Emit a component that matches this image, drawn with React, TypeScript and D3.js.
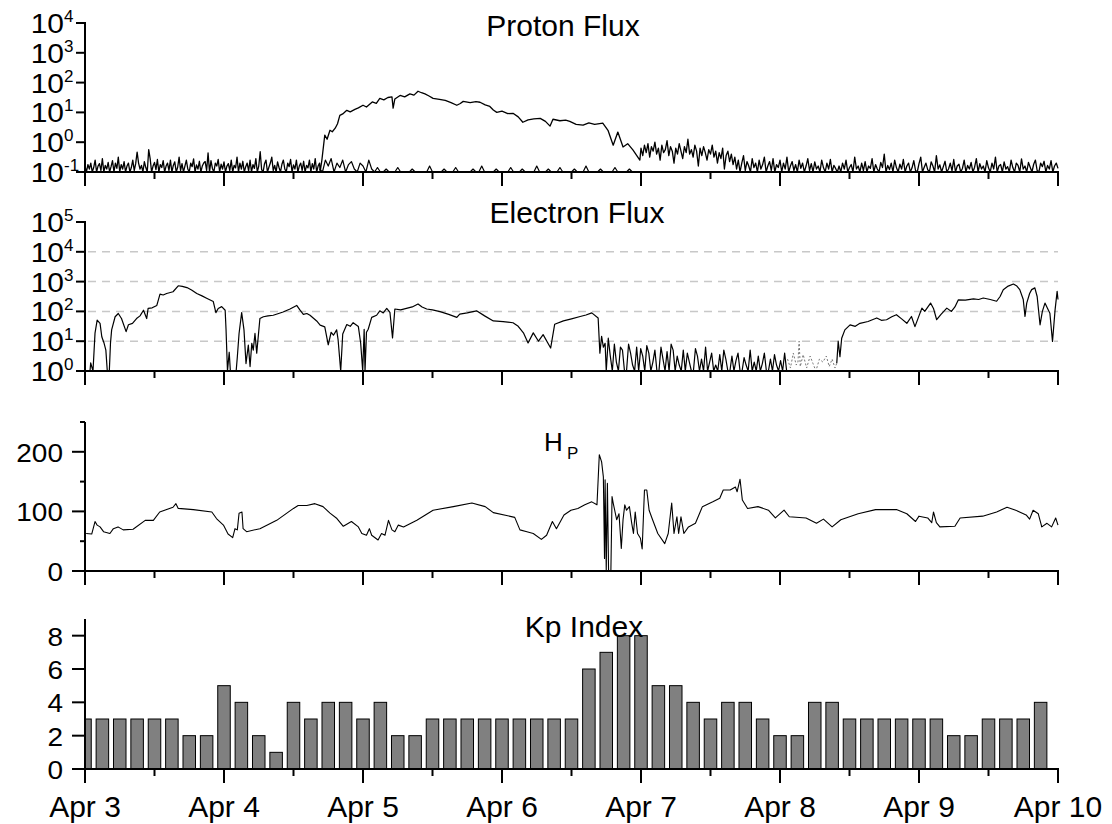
import React from "react";
import * as d3 from "d3";

// ---------------- DATA ----------------
const START = Date.UTC(2000, 3, 3);
const HOUR = 3600 * 1000;
const SPAN_HOURS = 168;

const dayLabels = ["Apr 3", "Apr 4", "Apr 5", "Apr 6", "Apr 7", "Apr 8", "Apr 9", "Apr 10"];

// Kp index, 3-hour values starting Apr 3 00 UT
const kpValues = [
  3, 3, 3, 3, 3, 3, 2, 2,
  5, 4, 2, 1, 4, 3, 4, 4,
  3, 4, 2, 2, 3, 3, 3, 3,
  3, 3, 3, 3, 3, 6, 7, 8,
  8, 5, 5, 4, 3, 4, 4, 3,
  2, 2, 4, 4, 3, 3, 3, 3,
  3, 3, 2, 2, 3, 3, 3, 4,
];

// Proton flux, log10 values. Quiet background from Apr 3 00 UT, every 0.25 h
const protonQuietLog = [
  -.8, -1, -.75, -.9, -.7, -1, -.85, -.6, -1, -.8, -.72, -.95, -.55, -1, -.78, -.9, -.68, -1, -.82, -.62,
  -1, -.7, -.88, -.5, -1, -.75, -.9, -.65, -1, -.8, -.7, -1, -.85, -.6, -.95, -.72, -.33, -.7, -.9, -.78,
  -1, -.65, -.85, -1, -.25, -.55, -1, -.8, -.68, -.92, -.58, -1, -.75, -.85, -.62, -1, -.8, -.7, -.95, -.6,
  -1, -.78, -.66, -1, -.84, -.5, -.95, -.72, -1, -.8, -.6, -.9, -1, -.7, -.82, -.56, -1, -.76, -.9, -.64,
  -1, -.8, -.7, -.65, -.95, -.36, -1, -.62, -.88, -1, -.7, -.8, -.58, -1, -.74, -.9, -.66, -1, -.8, -.72,
  -.95, -.6, -1, -.78, -.86, -.5, -1, -.7, -.9, -.64, -1, -.82, -.7, -.96, -.6, -1, -.75, -.88, -.55, -1,
  -.8, -.32, -.92, -1, -.72, -.6, -1, -.84, -.7, -.5, -.95, -.78, -1, -.66, -.85, -1, -.74, -.6, -.9, -1,
  -.7, -.82, -.58, -1, -.76, -.9, -.6, -1, -.8, -.7, -.95, -.64, -1, -.78, -.86, -.6, -1, -.72, -.9, -.55,
  -1, -.8, -.7,
];

// Proton event [hour, log10 flux]
const protonEventLog: [number, number][] = [
  [40.6, -1], [40.9, -.6], [41.4, .24], [41.8, .1], [42.3, .4], [42.7, .35], [43.2, .47], [43.6, .62],
  [44, .9], [44.5, .95], [45.2, 1.07], [45.8, 1.02], [46.6, 1.1], [47.2, 1.15], [48, 1.24], [48.6, 1.18],
  [49.6, 1.35], [50.3, 1.3], [50.9, 1.47], [51.6, 1.42], [52.3, 1.5], [53, 1.52], [53.2, 1.14], [53.5, 1.45],
  [54.4, 1.57], [55.2, 1.52], [56.1, 1.62], [56.8, 1.58], [57.5, 1.71], [58.1, 1.66], [58.7, 1.62], [59.4, 1.55],
  [60.1, 1.47], [61.2, 1.44], [62.2, 1.4], [63.2, 1.33], [64.2, 1.24], [64.8, 1.3], [65.3, 1.37], [66.5, 1.33],
  [67.5, 1.36], [68.2, 1.34], [69.1, 1.25], [69.9, 1.2], [70.5, 1.08], [71.1, 1.0], [72, 1.04], [73, .96],
  [73.9, .97], [74.8, .85], [75.6, .67], [76.5, .75], [77.5, .78], [78.6, .8], [79.5, .7], [80.3, .54],
  [80.8, .77], [82, .72], [83, .74], [83.7, .7], [84.8, .6], [86, .57], [87, .65], [88, .6],
  [89.4, .64], [90.3, .4], [91.2, -.1], [92, .34], [92.9, -.16], [93.7, -.05], [94.6, -.26], [95.8, -.6],
];

// Proton decay and background from Apr 7 00 UT, every 0.3 h
const protonLateLog = [
  -.2, -.45, -.1, -.35, -.05, -.5, -.15, -.3, 0, -.4, -.2, -.6, -.1, -.35, -.25, .05, -.45, -.15, -.3, -.7,
  -.2, -.4, -.05, -.3, -.55, -.15, -.35, .1, -.4, -.25, -.5, -.1, -.3, -.8, -.2, -.45, -.15, -.35, -.6, -.25,
  -.4, -.1, -.5, -.3, -.7, -.35, -.55, -.2, -.9, -.45, -.3, -.65, -.4, -.75,
  -.5, -.9, -.6, -1, -.7, -.45, -.95, -.65, -.8, -1, -.55, -.85, -.7, -1, -.6, -.9, -.75, -.5, -1, -.8,
  -.65, -.95, -.55, -1, -.75, -.85, -.6, -1, -.7, -.9, -.5, -1, -.8, -.65, -.95, -.75, -1, -.6, -.88, -.7,
  -1, -.8, -.55, -.95, -.72, -1, -.66, -.9, -.8, -1, -.6, -.85, -1, -.7, -.9, -.58, -1, -.78, -.88, -1,
  -.8, -1, -.7, -.9, -.6, -1, -.85, -.75, -1, -.5, -.9, -.8, -1, -.7, -.95, -.65, -1, -.8, -.88, -.55,
  -1, -.75, -.9, -1, -.68, -.85, -.4, -1, -.78, -.92, -.7, -1, -.6, -.85, -1, -.74, -.9, -.58, -1, -.8,
  -.7, -1, -.86, -.62, -.95, -1, -.72, -.5, -1, -.84, -.7, -.92, -1, -.66, -.8, -1, -.45, -.9, -.76, -1,
  -.82, -.64, -1, -.9, -.7, -.96, -.58, -1, -.8, -.74, -1, -.88, -.6, -1, -.78, -.9, -.68, -1, -.84, -.55,
  -1, -.72, -.9, -.8, -1, -.62, -.86, -1, -.7, -.9, -.5, -1, -.8, -.75, -1, -.66, -.9, -.82, -1, -.6,
  -.85, -1, -.7, -.78, -1, -.56, -.9, -.8, -1, -.68, -.84, -1, -.74, -.6, -.95, -1, -.7, -.82, -.64, -1,
  -.78, -.9, -.62, -1, -.8, -.7, -.88,
];

// Second (high-energy) proton channel, from 40.5 h, every 0.5 h
const protonHighLog = [
  -.9, -1, -.6, -.8, -.55, -1, -.7, -.85, -.6, -1, -.75, -.65, -.9, -1, -.7, -.8, -1, -.6, -.9, -1, -.85,
  -1, -1, -.9, -1, -1, -1, -.85, -1, -1, -1, -1, -.9, -1, -1, -1, -1, -1, -.8, -1, -1,
  -1, -1, -.9, -1, -1, -1, -.85, -1, -1, -1, -1, -1, -.9, -1, -1, -.8, -1, -1, -1, -1,
  -.9, -1, -1, -1, -1, -.85, -1, -1, -1, -.9, -1, -1, -1, -1, -.8, -1, -1, -1, -.9, -1,
  -1, -1, -.85, -1, -1, -1, -1, -.9, -1, -1, -1, -.8, -1, -1, -1, -1, -.9, -1, -1, -1,
  -1, -.85, -1, -1, -1, -1, -.9, -1, -1, -1,
];

// Electron flux [hour, log10 flux]
const electronLog: [number, number][] = [
  [0, 0], [0.86, 0], [0.98, .27], [1.38, 0], [1.73, 1.27], [2.1, 1.71], [2.6, 1.6], [2.9, 1.15], [3.3, .93],
  [3.6, .7], [3.85, 0], [4.2, 0], [4.4, .93], [4.6, 1.38], [5.2, 1.82], [5.75, 1.93], [6.3, 1.76], [7.1, 1.32],
  [7.5, 1.55], [8.2, 1.6], [8.9, 1.76], [9.5, 1.85], [10.1, 2.04], [10.65, 1.76], [10.9, 2.1], [11.6, 2.12],
  [12.4, 2.2], [12.95, 2.58], [13.5, 2.55], [14.1, 2.6], [15.2, 2.66], [16.1, 2.86], [16.8, 2.84], [17.6, 2.8],
  [18.4, 2.72], [19.3, 2.6], [20.2, 2.52], [21, 2.44], [22.15, 2.33], [22.6, 1.96], [23, 2.1], [23.6, 2.16],
  [24.2, 2.04], [24.35, 1.4], [24.6, 0], [24.9, .63], [25.1, 0], [26.1, 0], [26.3, .47], [26.6, 1.26],
  [27.05, 1.96], [27.45, 1.38], [27.8, .25], [28.2, .87], [28.5, .15], [28.8, .93], [29.05, .7], [29.35, 1.26],
  [29.65, .6], [30.2, 1.76], [30.8, 1.82], [31.6, 1.85], [32.5, 1.87], [33.3, 1.92], [34.2, 1.98], [35.4, 2.08],
  [36.55, 2.2], [37.1, 2.05], [37.7, 1.9], [38.3, 1.93], [38.85, 1.87], [40, 1.68], [40.6, 1.54], [41.4, 1.48],
  [42, .88], [42.5, 1.3], [42.9, 1.2], [43.45, 1.38], [43.7, 1.05], [44.15, 0], [44.5, 1.24], [45.2, 1.56],
  [45.8, 1.5], [46.3, 1.62], [47.2, 1.49], [47.6, .93], [47.95, 0], [48.2, 1.4], [48.35, 0], [48.6, 1.3],
  [48.9, 1.4], [49.5, 1.8], [50.35, 1.87], [50.9, 2.02], [51.5, 1.95], [52.1, 2.1], [52.65, 1.97], [53.1, 1.11],
  [53.5, 2.08], [54.5, 2.05], [55.5, 2.1], [56.5, 2.15], [57.5, 2.25], [58.2, 2.15], [59, 2.08], [60, 2.05],
  [61.3, 1.99], [62.8, 1.9], [64.2, 1.8], [64.7, 1.91], [66, 1.95], [67.6, 2.02], [69, 1.85], [70.5, 1.68],
  [72.2, 1.66], [73.9, 1.62], [74.8, 1.5], [75.7, 1.28], [76.5, .94], [77.4, 1.28], [78.3, 1.0], [79.1, 1.22],
  [80.4, .77], [81.1, 1.57], [82.6, 1.68], [84, 1.75], [85.5, 1.83], [86.5, 1.88], [87.5, 1.95], [88.6, 1.78],
  [88.9, .6], [89.2, 1.16], [89.5, .8], [89.8, .93],
];

// Electron dropout noise from 90 h, every 0.35 h (log10)
const electronNoiseLog = [
  0, 1.1, .5, 0, .9, .3, 0, .8, .7, 0, 0, .9, .6, .2, 0, .8, 0, .75, .5, 0,
  .85, .6, 0, .3, .7, 0, 0, .8, .4, 0, .65, 0, .9, .7, 0, .5, .2, 0, .7, 0,
  .6, .3, 0, 0, .75, .5, 0, .4, 0, .8, 0, .3, .6, 0, .2, 0, .55, 0, .7, .4,
  0, 0, .5, 0, .35, .6, 0, 0, .45, .2, 0, .7, 0, .3, 0, .5, 0, .25, .6, 0,
  0, .4, 0, .55, .2, 0, .35, 0, .6, 0,
];

// Sparse (dotted) electron samples [hour, log10]
const electronGapLog: [number, number][] = [
  [121.3, .4], [121.8, .1], [122.3, .6], [122.8, .2], [123.1, .3], [123.3, 1.0], [123.5, .15], [124, .55],
  [124.6, .1], [125.2, .5], [125.7, .25], [126.2, 0], [126.8, .4], [127.4, .3], [128, .5], [128.5, .15],
  [129, .4], [129.5, .1], [129.8, .26],
];

// Electron recovery [hour, log10]
const electronRecoveryLog: [number, number][] = [
  [129.8, .26], [130.05, 1.0], [130.35, .48], [130.65, 1.1], [131.2, 1.38], [132.1, 1.55], [133, 1.5],
  [133.8, 1.6], [135.2, 1.66], [136.7, 1.78], [137.5, 1.7], [138.4, 1.72], [139.3, 1.82], [140.1, 1.89],
  [141, 1.75], [141.9, 1.6], [142.7, 1.83], [143.3, 1.49], [144.5, 2.11], [145, 2.0], [145.6, 2.17],
  [146, 2.28], [146.5, 2.1], [147.05, 1.72], [147.8, 1.9], [148.8, 2.11], [149.6, 2.0], [150.2, 2.15],
  [150.8, 2.39], [152, 2.38], [153.4, 2.42], [154.3, 2.4], [155.1, 2.45], [156.3, 2.4], [157.4, 2.34],
  [158, 2.5], [158.55, 2.73], [159.4, 2.85], [160.3, 2.92], [160.9, 2.85], [161.4, 2.73], [162, 2.4],
  [162.3, 1.83], [162.6, 2.28], [163.1, 2.6], [163.45, 2.73], [164, 2.79], [164.4, 2.5], [164.9, 1.55],
  [165.3, 2.0], [165.75, 2.28], [166.2, 2.1], [166.6, 1.94], [167.05, .99], [167.5, 2.06], [167.85, 2.67],
  [168, 2.4],
];

// Hp [hour, nT]
const hpValues: [number, number][] = [
  [0.2, 63], [1.16, 62], [1.73, 83], [2.1, 77], [2.6, 74], [3.2, 66], [4.3, 63], [4.9, 71], [5.7, 74], [6.6, 69],
  [8.3, 70], [10.4, 85], [11.8, 85], [12.9, 99], [15.2, 107], [15.7, 113], [16.1, 105], [18.7, 103], [21.9, 99],
  [22.7, 88], [23.9, 77], [24.7, 62], [25.5, 56], [25.9, 71], [26.3, 69], [26.6, 97], [27.1, 99], [27.3, 71],
  [27.9, 66], [30.2, 71], [33.1, 85], [36, 105], [36.8, 110], [38.3, 110], [39.7, 113], [41.1, 108], [42.3, 97],
  [43.5, 88], [44.6, 75], [46, 83], [47.2, 74], [47.8, 63], [48.6, 60], [49.1, 71], [49.5, 60], [50.6, 52],
  [51.2, 63], [51.8, 60], [52.4, 85], [53, 69], [53.5, 66], [54.1, 77], [55, 74], [57.3, 85], [60.1, 102],
  [63.6, 108], [66.8, 114], [69.1, 108], [70.5, 98], [74.2, 90], [75.1, 69], [76.3, 66], [77.4, 63], [78.8, 53],
  [79.7, 60], [80.7, 83], [81.4, 71], [82.7, 94], [83.9, 102], [85.1, 105], [86.3, 111], [87.5, 116], [88.4, 111],
  [88.8, 195], [89.2, 183], [89.5, 158], [89.7, 21], [89.8, 153], [90, 0], [90.2, 147], [90.4, 0], [90.8, 0],
  [91, 125], [91.2, 114], [91.8, 86], [92.2, 96], [92.6, 38], [92.9, 86], [93.2, 111], [93.5, 102], [94, 108],
  [94.4, 80], [94.7, 63], [95, 99], [95.4, 63], [95.9, 55], [96.2, 37], [96.6, 136], [97, 136], [97.4, 102],
  [98, 86], [98.9, 63], [100.1, 46], [100.7, 63], [101.3, 114], [101.7, 63], [102.2, 91], [102.5, 63],
  [102.9, 91], [103.4, 63], [104.2, 74], [105.4, 80], [106.6, 108], [108.4, 116], [109.6, 122], [110.2, 136],
  [111.4, 136], [112.3, 141], [112.6, 133], [113.1, 154], [113.5, 119], [114.4, 105], [116.2, 108], [118, 102],
  [119.2, 89], [120.7, 102], [121.6, 91], [124.5, 89], [126.3, 80], [127.5, 87], [129, 74], [130.5, 86],
  [133.5, 96], [136.5, 103], [140.1, 103], [141.9, 96], [143.4, 83], [144, 92], [145.5, 89], [146.2, 81],
  [146.5, 99], [147, 81], [147.6, 74], [150.2, 75], [151.1, 89], [155, 92], [157.4, 99], [159.2, 107],
  [160.7, 102], [162.5, 94], [163.1, 87], [163.7, 102], [164.6, 96], [165.2, 74], [166.1, 80], [166.9, 74],
  [167.6, 89], [168, 77],
];

const protonExponents = [-1, 0, 1, 2, 3, 4];
const electronExponents = [0, 1, 2, 3, 4, 5];
const electronGridExponents = [1, 2, 3, 4];
const hpTicks = [0, 50, 100, 150, 200, 250];
const hpLabeled = [0, 100, 200];
const kpTicks = [0, 2, 4, 6, 8];

// ---------------- LAYOUT ----------------
const W = 1112;
const H = 824;
const X0 = 85;
const X1 = 1058;
const FONT = "'Liberation Sans', Arial, Helvetica, sans-serif";
const LABEL_SIZE = 28;
const LABEL_SQUASH = 0.9;
const TITLE_SIZE = 30;

const x = d3
  .scaleUtc()
  .domain([new Date(START), new Date(START + SPAN_HOURS * HOUR)])
  .range([X0, X1]);
const xh = (h: number) => x(new Date(START + h * HOUR));

const yProton = d3.scaleLog().domain([0.1, 1e4]).range([172, 23]).clamp(true);
const yElectron = d3.scaleLog().domain([1, 1e5]).range([371, 222]).clamp(true);
const yHp = d3.scaleLinear().domain([0, 250]).range([571, 422]);
const yKp = d3.scaleLinear().domain([0, 9]).range([769, 619]);

const xTicks = x.ticks(d3.utcHour.every(12) as any);

function SqText({
  x: tx,
  y: ty,
  size,
  anchor,
  children,
}: {
  x: number;
  y: number;
  size: number;
  anchor: string;
  children: any;
}) {
  return (
    <text
      transform={`translate(${tx},${ty}) scale(1,${LABEL_SQUASH})`}
      textAnchor={anchor as any}
      fontSize={size}
      fontFamily={FONT}
      fill="#000"
    >
      {children}
    </text>
  );
}

function XAxis({ y, labels }: { y: number; labels?: boolean }) {
  return (
    <g>
      <line x1={X0 - 1} x2={X1 + 1} y1={y} y2={y} stroke="#000" strokeWidth={2} />
      {xTicks.map((t, i) => {
        const major = t.getUTCHours() === 0;
        const tx = x(t);
        return (
          <g key={i}>
            <line x1={tx} x2={tx} y1={y} y2={y + (major ? 14 : 7)} stroke="#000" strokeWidth={2} />
            {labels && major ? (
              <text x={tx} y={y + 48} textAnchor="middle" fontSize={30} fontFamily={FONT}>
                {dayLabels[Math.round((t.getTime() - START) / (24 * HOUR))]}
              </text>
            ) : null}
          </g>
        );
      })}
    </g>
  );
}

function LogYAxis({ scale, exps, len }: { scale: any; exps: number[]; len: number }) {
  const [r0, r1] = scale.range();
  return (
    <g>
      <line x1={X0} x2={X0} y1={r0 + 1} y2={r1 - 1} stroke="#000" strokeWidth={2} />
      {exps.map((e) => {
        const ty = scale(Math.pow(10, e));
        return (
          <g key={e}>
            <line x1={X0 - len} x2={X0} y1={ty} y2={ty} stroke="#000" strokeWidth={2} />
            <SqText x={64} y={ty + 10} size={30} anchor="end">
              10
            </SqText>
            <text x={64} y={ty - 1} textAnchor="start" fontSize={17} fontFamily={FONT}>
              {String(e)}
            </text>
          </g>
        );
      })}
    </g>
  );
}

function LinYAxis({
  scale,
  ticks,
  labeled,
  majorLen,
  minorLen,
}: {
  scale: any;
  ticks: number[];
  labeled: number[];
  majorLen: number;
  minorLen: number;
}) {
  const [r0, r1] = scale.range();
  return (
    <g>
      <line x1={X0} x2={X0} y1={r0 + 1} y2={r1} stroke="#000" strokeWidth={2} />
      {ticks.map((v) => {
        const ty = scale(v);
        const major = labeled.includes(v);
        return (
          <g key={v}>
            <line x1={X0 - (major ? majorLen : minorLen)} x2={X0} y1={ty} y2={ty} stroke="#000" strokeWidth={2} />
            {major ? (
              <SqText x={63} y={ty + 10} size={LABEL_SIZE} anchor="end">
                {v}
              </SqText>
            ) : null}
          </g>
        );
      })}
    </g>
  );
}

export default function App() {
  const protonMain: [number, number][] = [
    ...protonQuietLog.map((v, i) => [i * 0.25, v] as [number, number]),
    ...protonEventLog,
    ...protonLateLog.map((v, i) => [96 + i * 0.3, v] as [number, number]),
  ];
  const protonHigh: [number, number][] = protonHighLog.map((v, i) => [40.5 + i * 0.5, v]);
  const electronMain: [number, number][] = [
    ...electronLog,
    ...electronNoiseLog.map((v, i) => [90 + i * 0.35, v] as [number, number]),
  ];

  const protonLine = d3
    .line<[number, number]>()
    .x((d) => xh(d[0]))
    .y((d) => yProton(Math.pow(10, d[1])));
  const electronLine = d3
    .line<[number, number]>()
    .x((d) => xh(d[0]))
    .y((d) => yElectron(Math.pow(10, d[1])));
  const hpLine = d3
    .line<[number, number]>()
    .x((d) => xh(d[0]))
    .y((d) => yHp(d[1]));

  const barW = xh(2.16) - xh(0);

  return (
    <svg
      width={W}
      height={H}
      viewBox={`0 0 ${W} ${H}`}
      style={{ position: "absolute", left: 0, top: 0, background: "#fff" }}
    >
      <defs>
        <clipPath id="clipP">
          <rect x={X0} y={0} width={X1 - X0 + 3} height={173} />
        </clipPath>
        <clipPath id="clipE">
          <rect x={X0} y={200} width={X1 - X0 + 3} height={172} />
        </clipPath>
        <clipPath id="clipH">
          <rect x={X0} y={400} width={X1 - X0 + 3} height={172} />
        </clipPath>
        <clipPath id="clipK">
          <rect x={X0} y={600} width={X1 - X0} height={170} />
        </clipPath>
      </defs>
      <rect x={0} y={0} width={W} height={H} fill="#fff" />

      {/* Proton panel */}
      <text x={563} y={36} textAnchor="middle" fontSize={TITLE_SIZE} fontFamily={FONT}>
        Proton Flux
      </text>
      <g clipPath="url(#clipP)" fill="none" stroke="#000" strokeLinejoin="round">
        <path d={protonLine(protonHigh) || ""} strokeWidth={1.2} />
        <path d={protonLine(protonMain) || ""} strokeWidth={1.3} />
      </g>
      <LogYAxis scale={yProton} exps={protonExponents} len={9} />
      <XAxis y={172} />

      {/* Electron panel */}
      <text x={577} y={223} textAnchor="middle" fontSize={TITLE_SIZE} fontFamily={FONT}>
        Electron Flux
      </text>
      {electronGridExponents.map((e) => (
        <line
          key={e}
          x1={X0 + 3}
          x2={X1}
          y1={yElectron(Math.pow(10, e))}
          y2={yElectron(Math.pow(10, e))}
          stroke="#c8c8c8"
          strokeWidth={1.5}
          strokeDasharray="8 6"
        />
      ))}
      <g clipPath="url(#clipE)" fill="none" strokeLinejoin="round">
        <path d={electronLine(electronMain) || ""} stroke="#000" strokeWidth={1.2} />
        <path d={electronLine(electronGapLog) || ""} stroke="#777" strokeWidth={1} strokeDasharray="2 2" />
        <path d={electronLine(electronRecoveryLog) || ""} stroke="#000" strokeWidth={1.2} />
      </g>
      <LogYAxis scale={yElectron} exps={electronExponents} len={9} />
      <XAxis y={371} />

      {/* Hp panel */}
      <text x={544} y={451} fontSize={26} fontFamily={FONT}>
        H
      </text>
      <text x={567} y={459} fontSize={17} fontFamily={FONT}>
        P
      </text>
      <g clipPath="url(#clipH)" fill="none" strokeLinejoin="round">
        <path d={hpLine(hpValues) || ""} stroke="#000" strokeWidth={1.1} />
      </g>
      <LinYAxis scale={yHp} ticks={hpTicks} labeled={hpLabeled} majorLen={13} minorLen={5} />
      <XAxis y={571} />

      {/* Kp panel */}
      <g clipPath="url(#clipK)">
        {kpValues.map((v, i) => {
          const cx = xh(i * 3);
          return (
            <rect
              key={i}
              x={cx - barW / 2}
              y={yKp(v)}
              width={barW}
              height={yKp(0) - yKp(v)}
              fill="#808080"
              stroke="#000"
              strokeWidth={1}
            />
          );
        })}
      </g>
      <text x={584} y={637} textAnchor="middle" fontSize={TITLE_SIZE} fontFamily={FONT}>
        Kp Index
      </text>
      <LinYAxis scale={yKp} ticks={kpTicks} labeled={kpTicks} majorLen={13} minorLen={13} />
      <XAxis y={769} labels />
    </svg>
  );
}
